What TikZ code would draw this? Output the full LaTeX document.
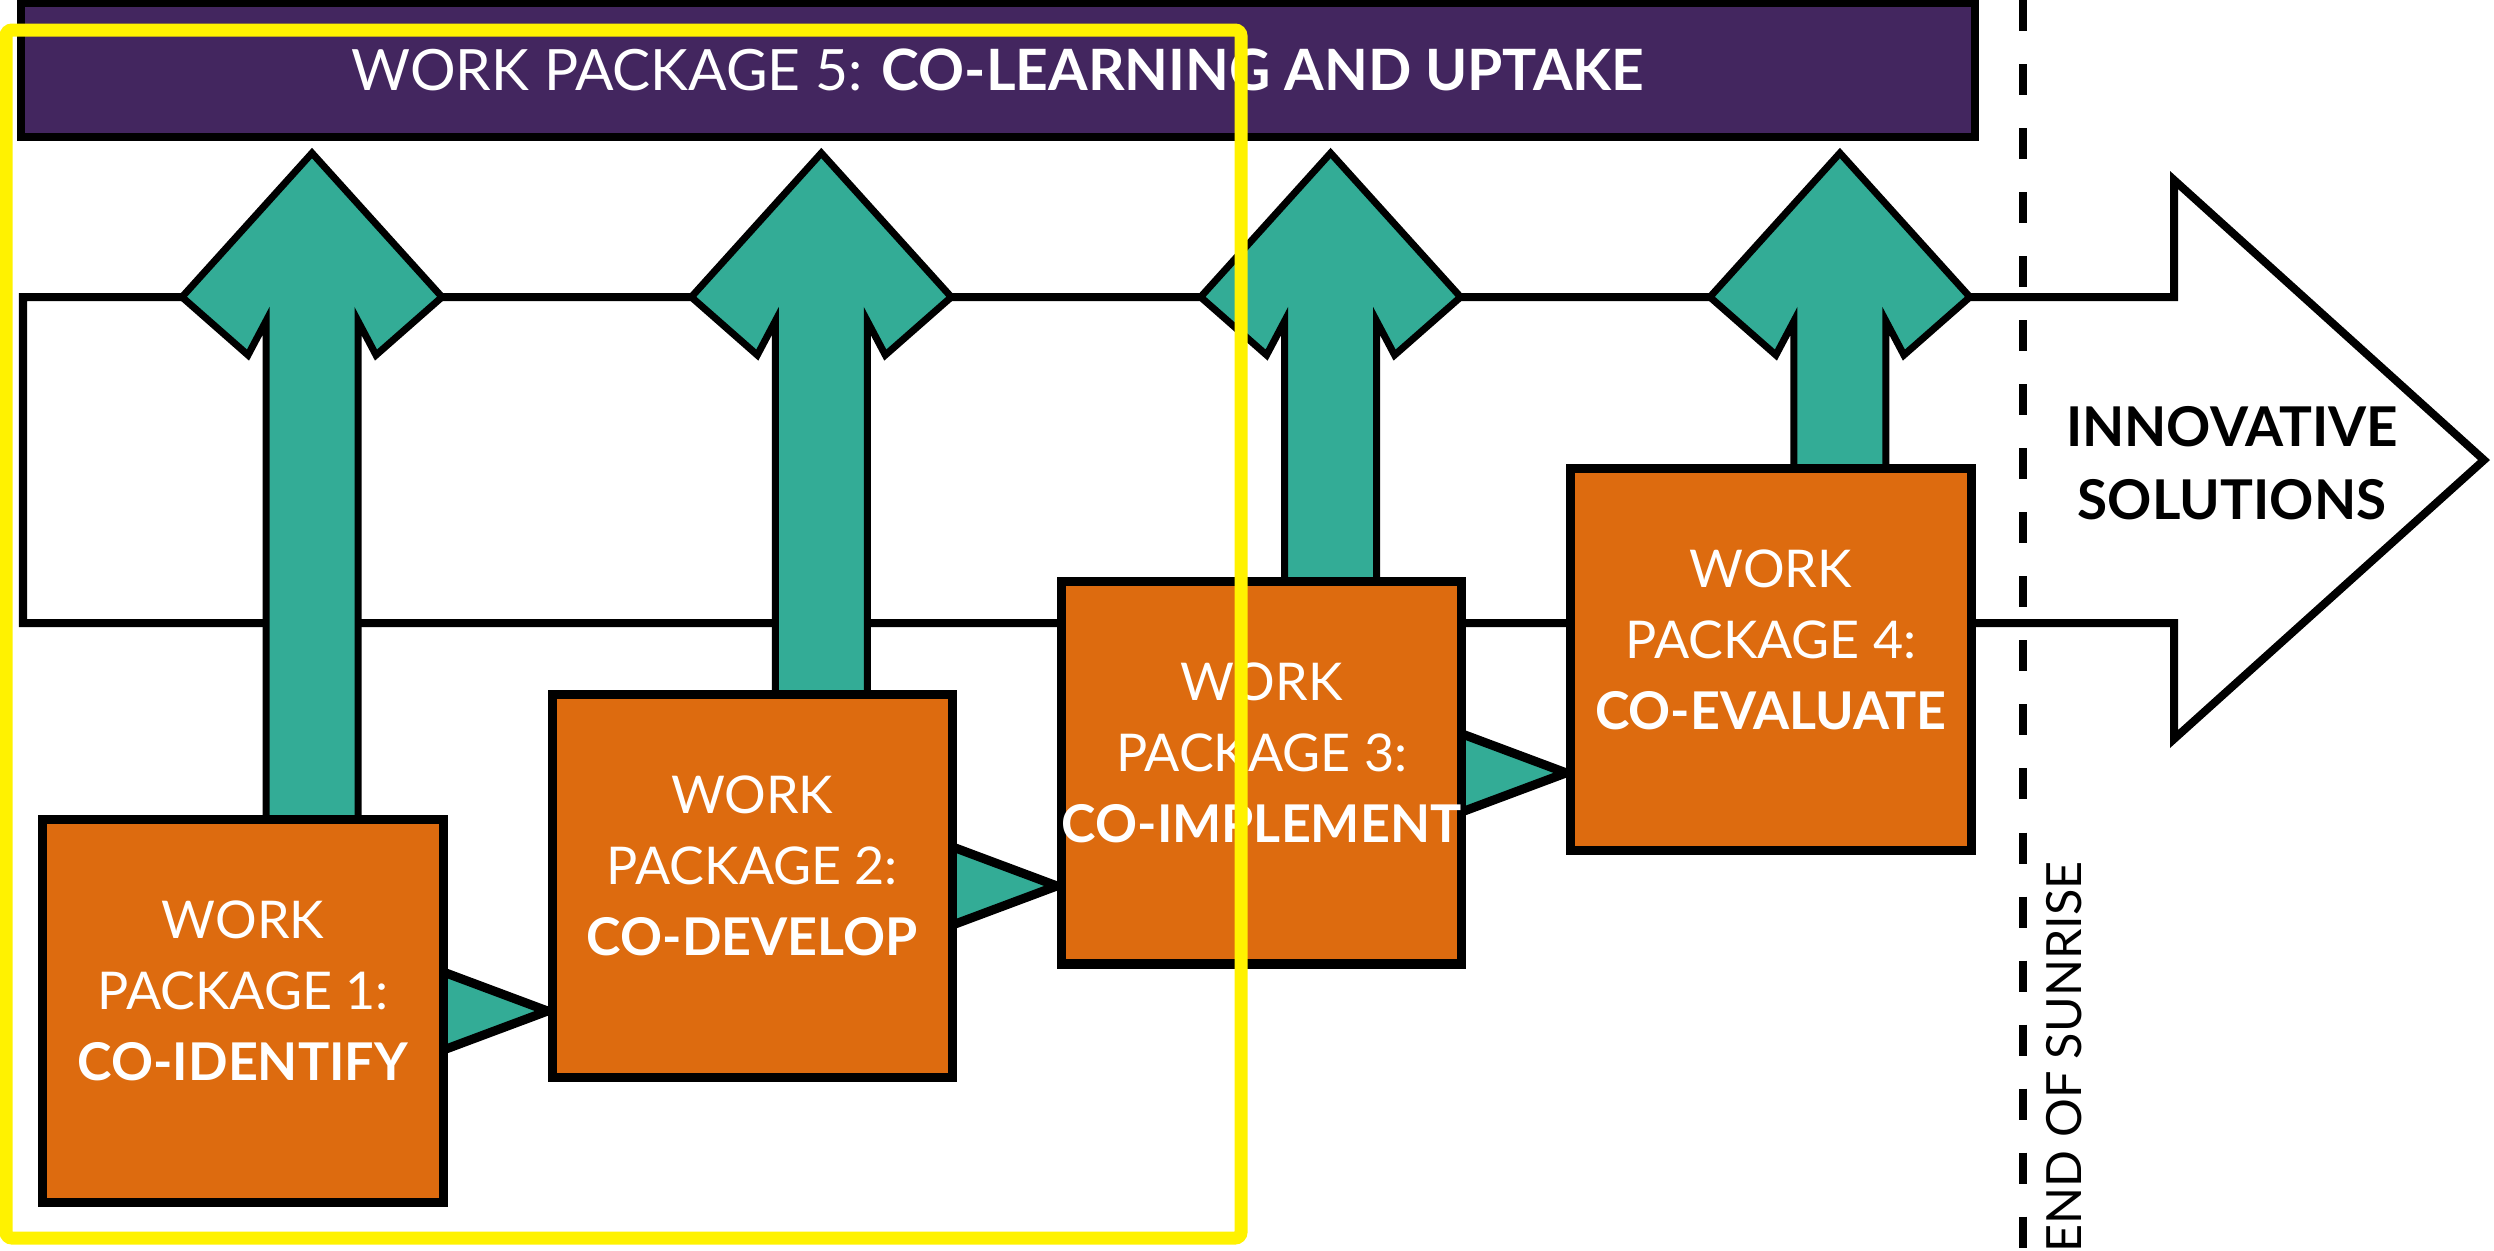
\documentclass[tikz,border=0pt]{standalone}
\usepackage{fontspec}
\setmainfont{Lato}
\usetikzlibrary{positioning,calc,backgrounds}
\definecolor{wppurple}{HTML}{43265F}
\definecolor{wpteal}{HTML}{33AC96}
\definecolor{wporange}{HTML}{DD6B0F}
\begin{document}
\begin{tikzpicture}[
    x=0.01cm, y=-0.01cm,
    node distance=1cm,
    package/.style={rectangle, draw=black, line width=0.09cm, minimum width=4cm, minimum height=3.82cm, inner xsep=0pt, align=center, fill=wporange, text=white, font=\fontsize{14.8}{20.2}\selectfont, text depth=0.4cm},
    uptake/.style={rectangle, draw=black, line width=0.08cm, minimum width=19.52cm, minimum height=1.34cm, fill=wppurple, text=white, font=\fontsize{16.2}{20}\selectfont},
    lift/.style={draw=black, line width=0.07cm, fill=wpteal},
    handover/.style={draw=black, line width=0.09cm, fill=wpteal},
    outcome/.style={draw=black, line width=0.08cm, fill=white},
    divider/.style={line width=0.08cm, dash pattern=on 0.31cm off 0.33cm},
    highlight/.style={draw=yellow, line width=0.13cm, rounded corners=0.06cm}
]
\useasboundingbox (0,0) rectangle (2494,1250);

\node[uptake] (wp5) at (998,70) {WORK PACKAGE 5: \textbf{CO-LEARNING AND UPTAKE}};
\node[package] (wp1) at (243,1011) {WORK\\PACKAGE 1:\\\textbf{CO-IDENTIFY}};
\node[package, right=of wp1, yshift=1.25cm] (wp2) {WORK\\PACKAGE 2:\\\textbf{CO-DEVELOP}};
\node[package, right=of wp2, yshift=1.13cm] (wp3) {WORK\\PACKAGE 3:\\\textbf{CO-IMPLEMENT}};
\node[package, right=of wp3, yshift=1.13cm] (wp4) {WORK\\PACKAGE 4:\\\textbf{CO-EVALUATE}};
\node[align=center, font=\fontsize{15.6}{20.8}\selectfont\bfseries] (result) at (2232,463) {INNOVATIVE\\SOLUTIONS};
\node[rotate=90, anchor=east, inner sep=0pt, font=\fontsize{13.8}{16}\selectfont] (finish) at (2064,861) {END OF SUNRISE};

\begin{scope}[on background layer]
\draw[outcome] (23,297) -- (2174,297) -- (2174,180) -- (2484,460) -- (2174,739) -- (2174,623) -- (23,623) -- cycle;
\draw[divider] (2023,0) -- (2023,1250);
\foreach \b in {wp1,wp2,wp3,wp4}{
  \coordinate (tip) at ($(wp5.south -| \b.north)+(69,12)$);
  \draw[lift] ($(\b.north)+(23,20)$) -- ($(tip)+(-46,168)$) -- ($(tip)+(-64,202)$) -- ($(tip)+(-130,144)$) -- (tip)
    -- ($(tip)+(130,144)$) -- ($(tip)+(64,202)$) -- ($(tip)+(46,168)$) -- ($(\b.north)+(115,20)$);
}
\foreach \a/\b in {wp1/wp2,wp2/wp3,wp3/wp4}
  \draw[handover] ($(\a.east)+(-15,-43)$) -- (\a.east -| \b.west) -- ($(\a.east)+(-15,43)$) -- cycle;
\end{scope}

\draw[highlight] (6,30) rectangle (1241,1238);
\end{tikzpicture}
\end{document}
